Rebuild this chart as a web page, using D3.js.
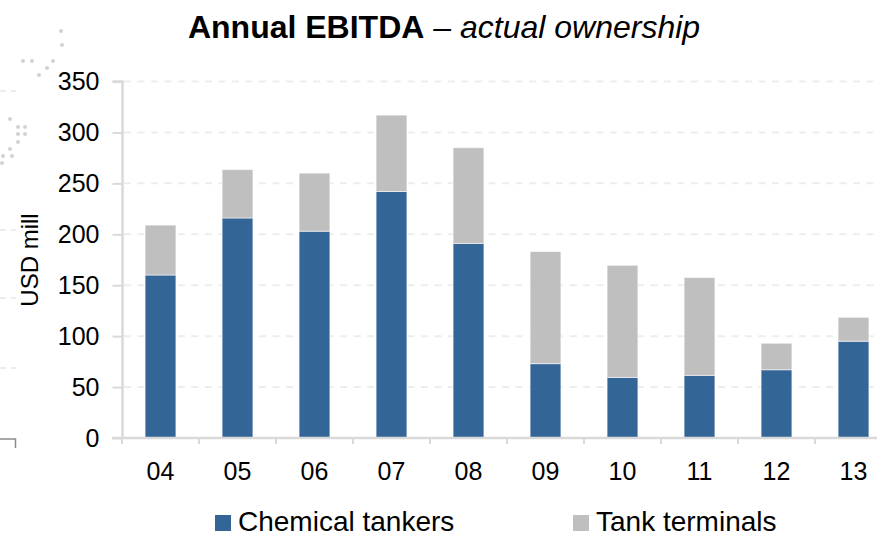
<!DOCTYPE html>
<html>
<head>
<meta charset="utf-8">
<script src="https://cdn.jsdelivr.net/npm/d3@7/dist/d3.min.js"></script>
<style>
  html, body { margin: 0; padding: 0; background: #fff; }
  svg { display: block; font-family: "Liberation Sans", Arial, sans-serif; }
</style>
</head>
<body>
<svg id="chart" width="877" height="537"></svg>
<script>
// Annual EBITDA by segment, USD mill
const years = ["04", "05", "06", "07", "08", "09", "10", "11", "12", "13"];
const chemicalTankers = [160, 216, 203, 242, 191, 73, 59.5, 61.5, 67, 95];
const tankTerminals = [49, 47.5, 57, 75, 94, 110, 110, 96, 26, 23.5];
const yTicks = [0, 50, 100, 150, 200, 250, 300, 350];
const seriesNames = ["Chemical tankers", "Tank terminals"];
const seriesColors = ["#346597", "#bfbfbf"];

// faint background ornament from the slide template
const ornamentDots = [
  [61, 31], [62, 45], [23, 61], [32, 61], [53, 61], [47, 68], [39, 75],
  [10, 119], [18, 127], [25, 127], [18, 134], [25, 134], [18, 142],
  [10, 149], [3, 156], [12, 156], [2, 163]
];
const ornamentDashes = [91, 230, 298, 368];

const svg = d3.select("#chart");

const x = d3.scaleBand().domain(years).range([122, 892]).paddingInner(0.6).paddingOuter(0.3);
const y = d3.scaleLinear().domain([0, 350]).range([438, 81.5]);

// ornament
const orn = svg.append("g");
orn.selectAll("circle").data(ornamentDots).join("circle")
  .attr("cx", d => d[0]).attr("cy", d => d[1]).attr("r", 2)
  .attr("fill", "#d2d2d2");
orn.selectAll("line").data(ornamentDashes).join("line")
  .attr("x1", 0).attr("x2", 16).attr("y1", d => d).attr("y2", d => d)
  .attr("stroke", "#e6e6e6").attr("stroke-width", 1.5).attr("stroke-dasharray", "6 5");
orn.append("path").attr("d", "M0,439H15.5V448")
  .attr("fill", "none").attr("stroke", "#8c8c8c").attr("stroke-width", 1.5);

// gridlines
svg.append("g").selectAll("line").data(yTicks.filter(t => t > 0)).join("line")
  .attr("x1", 124).attr("x2", 877)
  .attr("y1", d => y(d)).attr("y2", d => y(d))
  .attr("stroke", "#ededed").attr("stroke-width", 2).attr("stroke-dasharray", "7 6.5");

// stacked bars
const rows = years.map((yr, i) => ({ year: yr, chem: chemicalTankers[i], term: tankTerminals[i] }));
const stack = d3.stack().keys(["chem", "term"])(rows);
svg.append("g").selectAll("g").data(stack).join("g")
  .attr("fill", (d, i) => seriesColors[i])
  .selectAll("rect").data(d => d).join("rect")
  .attr("x", d => x(d.data.year))
  .attr("width", x.bandwidth())
  .attr("y", d => y(d[1]))
  .attr("height", d => y(d[0]) - y(d[1]))
  .attr("stroke", "#ffffff").attr("stroke-opacity", 0.55).attr("stroke-width", 1);

// y axis
const yAxis = d3.axisLeft(y).tickValues(yTicks).tickSize(10).tickPadding(13);
const gy = svg.append("g").attr("transform", "translate(122.5,0)").call(yAxis);
gy.select(".domain").attr("stroke", "#d9d9d9").attr("stroke-width", 2.5)
  .attr("d", `M-10,${y(350)}H0V${y(0)}`);
gy.selectAll(".tick line").attr("stroke", "#d9d9d9").attr("stroke-width", 2);
gy.selectAll(".tick text").attr("font-size", 25).attr("fill", "#000")
  .attr("font-family", "Liberation Sans, Arial, sans-serif");

// x axis with ticks between categories
const step = x.step();
const gx = svg.append("g").attr("transform", `translate(0,${y(0)})`);
gx.append("line").attr("x1", 112).attr("x2", 877).attr("y1", 0).attr("y2", 0)
  .attr("stroke", "#d9d9d9").attr("stroke-width", 2.5);
gx.selectAll(".sep").data(years).join("line").attr("class", "sep")
  .attr("x1", d => x(d) + x.bandwidth() / 2 - step / 2)
  .attr("x2", d => x(d) + x.bandwidth() / 2 - step / 2)
  .attr("y1", 0).attr("y2", 6)
  .attr("stroke", "#d9d9d9").attr("stroke-width", 2);
gx.selectAll(".lbl").data(years).join("text").attr("class", "lbl")
  .attr("x", d => x(d) + x.bandwidth() / 2)
  .attr("y", 42)
  .attr("text-anchor", "middle").attr("font-size", 25).attr("fill", "#000")
  .text(d => d);

// y axis title
svg.append("text")
  .attr("transform", "translate(38,260) rotate(-90)")
  .attr("text-anchor", "middle").attr("font-size", 24).attr("fill", "#000")
  .text("USD mill");

// chart title
const title = svg.append("text").attr("x", 444).attr("y", 38)
  .attr("text-anchor", "middle").attr("font-size", 32).attr("fill", "#000");
title.append("tspan").attr("font-weight", "bold").text("Annual EBITDA");
title.append("tspan").attr("font-style", "italic").text(" \u2013 actual ownership");

// legend
const legendX = [215, 573];
const lg = svg.append("g").selectAll("g").data(seriesNames).join("g")
  .attr("transform", (d, i) => `translate(${legendX[i]},515)`);
lg.append("rect").attr("width", 16).attr("height", 16).attr("fill", (d, i) => seriesColors[i]);
lg.append("text").attr("x", 23).attr("y", 15.5).attr("font-size", 28).attr("fill", "#000").text(d => d);
</script>
</body>
</html>
